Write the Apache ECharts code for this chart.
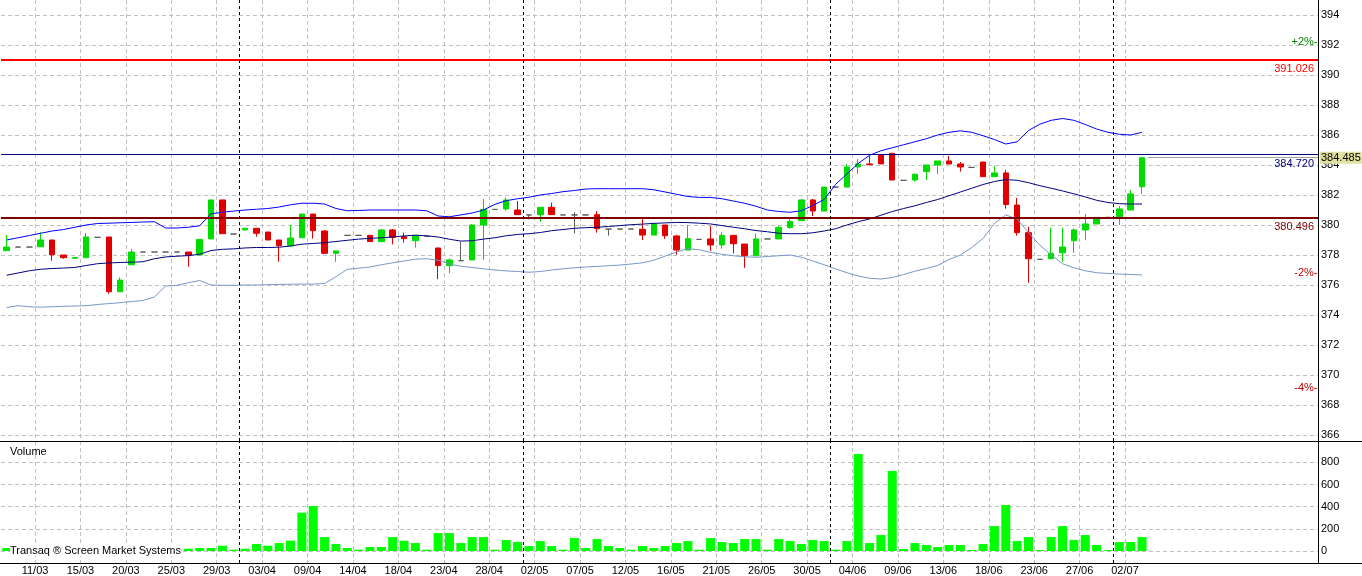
<!DOCTYPE html>
<html><head><meta charset="utf-8">
<script src="https://cdn.jsdelivr.net/npm/echarts@6/dist/echarts.min.js"></script>
<style>html,body{margin:0;padding:0;background:#fff}#c{width:1362px;height:576px}</style>
</head><body><div id="c"></div>
<script>
// ---------- data ----------
const dates = ['07/03','08/03','10/03','11/03','12/03','13/03','14/03','15/03','17/03','18/03',
'19/03','20/03','21/03','22/03','24/03','25/03','26/03','27/03','28/03','29/03',
'31/03','01/04','02/04','03/04','04/04','07/04','08/04','09/04','10/04','11/04',
'12/04','14/04','15/04','16/04','17/04','18/04','19/04','21/04','22/04','23/04',
'24/04','25/04','26/04','28/04','29/04','30/04','01/05','02/05','03/05','04/05',
'05/05','07/05','08/05','09/05','10/05','12/05','13/05','14/05','15/05','16/05',
'17/05','19/05','20/05','21/05','22/05','23/05','24/05','26/05','27/05','28/05',
'29/05','30/05','31/05','01/06','03/06','04/06','05/06','06/06','07/06','09/06',
'10/06','11/06','12/06','13/06','14/06','15/06','16/06','18/06','19/06','20/06',
'21/06','23/06','24/06','25/06','26/06','27/06','28/06','30/06','01/07','02/07','03/07'];

// [open, close, low, high]
const candles = [
[378.29,378.53,378.29,379.33],[378.53,378.53,378.53,378.53],[378.53,378.53,378.53,378.53],
[378.55,379.00,378.55,379.51],[379.00,378.02,377.62,379.00],[378.00,377.82,377.75,378.00],
[377.78,377.84,377.78,377.84],[377.82,379.20,377.82,379.47],[379.18,379.18,379.18,379.18],
[379.20,375.55,375.42,379.20],[375.55,376.33,375.55,376.51],[377.35,378.20,377.35,378.40],
[378.20,378.20,378.20,378.20],[378.20,378.20,378.20,378.20],[378.20,378.20,378.20,378.20],
[378.20,378.20,378.20,378.20],[378.20,378.00,377.22,378.20],[378.00,379.04,378.00,379.04],
[379.07,381.67,379.07,381.67],[381.67,379.42,379.42,381.67],[379.40,379.40,379.40,379.40],
[379.67,379.78,379.67,379.78],[379.78,379.45,379.22,379.78],[379.53,379.00,379.00,379.53],
[379.00,378.62,377.55,379.00],[378.62,379.13,378.55,380.00],[379.15,380.73,379.15,380.73],
[380.73,379.62,379.09,380.73],[379.60,378.11,378.11,379.67],[378.11,378.27,377.55,378.27],
[379.31,379.31,379.31,379.31],[379.31,379.31,379.31,379.31],[379.31,378.89,378.89,379.31],
[378.89,379.67,378.89,379.73],[379.67,379.18,378.71,379.73],[379.22,379.09,378.82,379.49],
[378.95,379.31,378.49,379.31],[379.25,379.25,379.25,379.25],[378.47,377.29,376.38,378.47],
[377.29,377.67,376.78,377.78],[377.62,377.62,377.62,378.89],[377.67,380.00,377.67,380.04],
[380.00,381.04,377.67,381.73],[381.04,381.04,381.04,381.04],[381.07,381.67,380.96,381.84],
[381.00,380.69,380.69,381.60],[380.67,380.67,380.38,380.67],[380.69,381.18,380.22,381.18],
[381.18,380.69,380.69,381.49],[380.67,380.67,380.67,380.67],[380.67,380.67,379.44,380.85],
[380.67,380.67,380.67,380.67],[380.69,379.75,379.49,380.93],[379.73,379.73,379.29,379.73],
[379.73,379.73,379.73,379.73],[379.73,379.73,379.73,379.73],[379.71,379.33,379.00,380.49],
[379.33,380.09,379.33,380.09],[380.00,379.29,379.07,380.00],[379.27,378.33,378.02,379.33],
[378.33,379.09,378.33,380.00],[379.04,379.04,379.04,379.04],[379.07,378.67,378.27,379.93],
[378.67,379.31,378.42,379.51],[379.31,378.75,378.11,379.31],[378.73,377.95,377.15,378.73],
[377.95,379.07,377.95,379.44],[379.07,379.07,379.07,379.07],[379.07,379.84,379.07,379.93],
[379.84,380.24,379.76,380.44],[380.29,381.67,380.29,381.73],[381.67,380.93,380.60,381.73],
[380.93,382.53,380.93,382.53],[382.53,382.53,382.53,382.53],[382.53,383.87,382.53,384.07],
[383.87,384.07,383.40,384.40],[384.07,384.02,384.02,384.62],[384.69,384.07,384.07,384.69],
[384.78,383.00,383.00,384.78],[382.98,382.98,382.98,382.98],[383.00,383.38,382.89,383.44],
[383.56,384.00,383.00,384.00],[384.00,384.27,383.40,384.27],[384.27,384.07,384.07,384.60],
[384.07,383.87,383.56,384.20],[383.84,383.84,383.84,383.84],[384.20,383.22,383.22,384.20],
[383.22,383.47,383.22,383.93],[383.47,381.36,381.09,383.67],[381.33,379.49,379.29,381.80],
[379.49,377.75,376.15,379.89],[377.71,377.71,377.71,377.71],[377.75,378.11,377.75,379.82],
[378.15,378.53,377.55,379.82],[378.95,379.67,378.15,379.78],[379.67,380.07,379.00,380.73],
[380.07,380.51,380.07,380.51],[380.51,380.51,380.51,380.51],[380.56,381.07,380.00,381.27],
[381.00,382.07,381.00,382.33],[382.55,384.485,382.07,384.485]];

const volumes = [27,12,12,30,35,25,20,40,12,45, 30,35,12,12,12,21,21,27,27,48,
12,21,63,48,72,93,346,406,126,63, 27,12,36,36,126,93,72,12,162,162,
72,126,126,12,99,81,45,90,45,12, 117,27,108,45,27,12,45,27,45,72,
90,12,117,81,72,108,108,12,108,90, 63,99,90,12,90,875,72,144,722,18,
72,54,36,54,54,9,63,225,415,90, 126,9,126,225,99,144,54,9,81,81, 126];

const bandUpper = [379.0,379.15,379.3,379.45,379.6,379.7,379.85,380.0,380.1,380.12,
380.15,380.17,380.2,380.22,379.8,379.8,379.85,379.95,380.75,380.85,
380.93,381.0,381.05,381.1,381.2,381.35,381.45,381.45,381.4,381.1,
380.95,380.97,381.0,381.0,381.0,381.0,381.0,380.95,380.6,380.55,
380.67,380.8,381.0,381.38,381.62,381.75,381.85,382.0,382.1,382.22,
382.3,382.4,382.42,382.42,382.42,382.42,382.42,382.35,382.2,382.05,
381.9,381.84,381.84,381.75,381.6,381.45,381.25,381.0,380.9,380.85,
380.95,381.3,381.7,382.7,383.4,384.1,384.65,384.95,385.15,385.35,
385.55,385.75,386.0,386.18,386.28,386.18,385.95,385.7,385.4,385.55,
386.3,386.72,386.98,387.1,386.98,386.7,386.4,386.18,386.05,386.0,386.18];

const bandMiddle = [376.65,376.8,376.95,377.05,377.1,377.13,377.17,377.3,377.42,377.47,
377.5,377.52,377.55,377.75,377.87,377.92,377.96,378.05,378.3,378.38,
378.41,378.47,378.5,378.5,378.52,378.6,378.72,378.77,378.82,378.9,
378.98,379.06,379.11,379.15,379.2,379.27,379.32,379.28,379.2,379.05,
378.93,378.95,379.06,379.15,379.28,379.37,379.42,379.5,379.62,379.7,
379.78,379.82,379.85,379.9,379.96,380.02,380.06,380.11,380.14,380.17,
380.16,380.12,380.07,379.96,379.85,379.75,379.63,379.55,379.45,379.42,
379.42,379.48,379.6,379.75,380.0,380.22,380.4,380.65,380.9,381.1,
381.28,381.5,381.7,381.95,382.2,382.45,382.7,382.9,383.03,382.98,
382.82,382.62,382.45,382.27,382.08,381.87,381.65,381.5,381.42,381.4,381.4];

const bandLower = [374.5,374.62,374.55,374.52,374.55,374.58,374.6,374.62,374.7,374.76,
374.82,374.9,374.97,375.2,375.93,375.98,376.15,376.3,376.0,375.98,
375.98,376.0,376.0,376.02,376.04,376.05,376.06,376.06,376.1,376.55,
377.05,377.12,377.2,377.35,377.48,377.6,377.72,377.75,377.65,377.4,
377.25,377.17,377.08,377.0,376.94,376.9,376.85,376.9,377.0,377.08,
377.15,377.2,377.24,377.28,377.33,377.4,377.48,377.65,377.93,378.2,
378.42,378.35,378.17,378.05,377.95,377.88,377.85,377.9,377.95,378.0,
377.85,377.6,377.35,377.08,376.82,376.6,376.45,376.4,376.5,376.7,
376.92,377.1,377.3,377.7,378.0,378.5,379.1,380.1,380.67,380.4,
379.5,378.65,378.0,377.42,377.15,376.95,376.82,376.77,376.73,376.7,376.67];

const levelHigh = 391.026, levelMid = 384.720, levelLow = 380.496;
const pctSteps = [2, -2, -4];
const priceTicks = [366,368,370,372,374,376,378,380,382,384,386,388,390,392,394];
const volumeTicks = [0,200,400,600,800];

// ---------- chart ----------
const font = "'Liberation Sans', Arial, sans-serif";
const N = 116;
const slotCats = dates.concat(Array.from({length: N - dates.length}, (_, i) => '_s' + i));
const edgeCats = dates.concat(Array.from({length: N + 1 - dates.length}, (_, i) => '_e' + i));
const showEdge = (i) => i % 4 === 3 && i < dates.length;
const monthStarts = dates.map((d, i) => (i > 0 && d.slice(3) !== dates[i - 1].slice(3)) ? i : -1).filter(i => i > 0);
const lastClose = candles[candles.length - 1][1];
const gridLine = {show: true, lineStyle: {color: '#c0c0c0', type: [4, 3], width: 1}};
const sepStyle = {color: '#000', type: [3, 3], width: 1};
const upC = '#00dc00', downC = '#e00000';
const numFont = {fontSize: 11, fontFamily: font};

const hidden = {axisLine: {show: false}, axisTick: {show: false}, axisLabel: {show: false}, splitLine: {show: false}};

const option = {
  animation: false,
  textStyle: {fontFamily: font},
  grid: [
    {left: 1, width: 1317, top: 0, height: 441},
    {left: 1, width: 1317, top: 441, height: 122}
  ],
  xAxis: [
    Object.assign({type: 'category', gridIndex: 0, position: 'bottom', data: slotCats, boundaryGap: true}, hidden),
    {type: 'category', gridIndex: 0, position: 'bottom', data: edgeCats, boundaryGap: false,
     axisLine: {show: false, onZero: false}, axisTick: {show: false}, axisLabel: {show: false},
     splitLine: Object.assign({interval: showEdge}, gridLine)},
    Object.assign({type: 'category', gridIndex: 1, position: 'bottom', data: slotCats, boundaryGap: true}, hidden),
    {type: 'category', gridIndex: 1, position: 'bottom', data: edgeCats, boundaryGap: false,
     axisLine: {show: true, onZero: false, lineStyle: {color: '#000', width: 1}}, axisTick: {show: false},
     axisLabel: {show: true, interval: showEdge, margin: 2, color: '#000', fontSize: 11, fontFamily: font},
     splitLine: Object.assign({interval: showEdge}, gridLine)}
  ],
  yAxis: [
    {type: 'value', gridIndex: 0, position: 'right', min: 365.6, max: 395,
     axisLine: {show: true, lineStyle: {color: '#000', width: 1}},
     axisTick: {show: false, customValues: priceTicks},
     axisLabel: Object.assign({customValues: priceTicks, margin: 3, color: '#000'}, numFont),
     splitLine: gridLine},
    {type: 'value', gridIndex: 1, position: 'right', min: -108, max: 992,
     axisLine: {show: true, lineStyle: {color: '#000', width: 1}},
     axisTick: {show: false, customValues: volumeTicks},
     axisLabel: Object.assign({customValues: volumeTicks, margin: 3, color: '#000'}, numFont),
     splitLine: gridLine}
  ],
  series: [
    {type: 'candlestick', xAxisIndex: 0, yAxisIndex: 0, data: candles, barWidth: 6,
     itemStyle: {color: upC, color0: downC, borderColor: upC, borderColor0: downC, borderColorDoji: '#5c5c5c', borderWidth: 1},
     markLine: {silent: true, symbol: 'none', animation: false,
       label: Object.assign({position: 'insideEndBottom', distance: [4, 4]}, numFont),
       data: [
         {yAxis: levelHigh, lineStyle: {color: '#ff0000', width: 2, type: 'solid'}, label: {formatter: levelHigh.toFixed(3), color: '#ff0000'}},
         {yAxis: levelMid, lineStyle: {color: '#000080', width: 1, type: 'solid'}, label: {formatter: levelMid.toFixed(3), color: '#000080'}},
         {yAxis: levelLow, lineStyle: {color: '#800000', width: 2, type: 'solid'}, label: {formatter: levelLow.toFixed(3), color: '#800000'}}
       ]}},
    {type: 'line', xAxisIndex: 0, yAxisIndex: 0, data: bandUpper, symbol: 'none', lineStyle: {color: '#0000ff', width: 1}},
    {type: 'line', xAxisIndex: 0, yAxisIndex: 0, data: bandMiddle, symbol: 'none', lineStyle: {color: '#000080', width: 1}},
    {type: 'line', xAxisIndex: 0, yAxisIndex: 0, data: bandLower, symbol: 'none', lineStyle: {color: '#7896c8', width: 1}},
    {type: 'line', xAxisIndex: 1, yAxisIndex: 0, data: [],
     markLine: {silent: true, symbol: 'none', animation: false,
       data: monthStarts.map(i => ({xAxis: i, lineStyle: sepStyle, label: {show: false}})).concat([[
         {coord: [candles.length, lastClose], lineStyle: {color: '#a0a0a0', width: 1, type: 'solid'},
          label: Object.assign({show: true, position: 'end', distance: 2, formatter: lastClose.toFixed(3), color: '#000',
                  backgroundColor: '#e0e0a0', padding: [1, 1, 0, 1]}, numFont)},
         {coord: [N, lastClose]}
       ]])},
     markPoint: {silent: true, animation: false, symbol: 'rect', symbolSize: 1,
       itemStyle: {color: 'rgba(0,0,0,0)'},
       data: pctSteps.map(p => ({coord: [N, lastClose * (1 + p / 100)],
         label: Object.assign({show: true, position: 'left', distance: 0,
                 color: p > 0 ? '#008000' : '#c00000', formatter: (p > 0 ? '+' : '') + p + '%-'}, numFont)}))}},
    {type: 'bar', xAxisIndex: 2, yAxisIndex: 1, data: volumes, barWidth: 9, itemStyle: {color: '#00ff00'}},
    {type: 'line', xAxisIndex: 3, yAxisIndex: 1, data: [],
     markLine: {silent: true, symbol: 'none', animation: false,
       data: monthStarts.map(i => ({xAxis: i, lineStyle: sepStyle, label: {show: false}}))}}
  ],
  graphic: [
    {type: 'line', z: 50, shape: {x1: 0, y1: 441.5, x2: 1362, y2: 441.5}, style: {stroke: '#000', lineWidth: 1}},
    {type: 'line', z: 50, shape: {x1: 0, y1: 563.5, x2: 1362, y2: 563.5}, style: {stroke: '#000', lineWidth: 1}},
    {type: 'text', z: 50, left: 10, top: 446, style: {text: 'Volume', font: '11px ' + font, fill: '#000'}},
    {type: 'text', z: 50, left: 10, top: 545, style: {text: 'Transaq \u00AE Screen Market Systems', font: '11px ' + font, fill: '#000', backgroundColor: '#fff'}}
  ]
};

const chart = echarts.init(document.getElementById('c'));
chart.setOption(option);
</script>
</body></html>
